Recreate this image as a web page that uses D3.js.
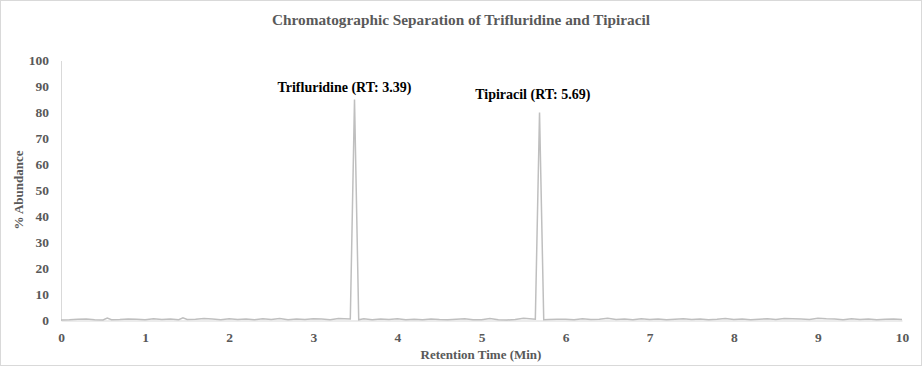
<!DOCTYPE html>
<html>
<head>
<meta charset="utf-8">
<script src="https://cdn.jsdelivr.net/npm/d3@7"></script>
<style>
  body { margin: 0; background: #fff; }
  text { font-family: "Liberation Serif", "Times New Roman", serif; }
</style>
</head>
<body>
<script>
// retention time (min) and % abundance
var times = [0.0, 0.1, 0.2, 0.3, 0.4, 0.5, 0.55, 0.6, 0.7, 0.8, 0.9, 1.0, 1.1, 1.2, 1.3, 1.4, 1.45, 1.5, 1.6, 1.7, 1.8, 1.9, 2.0,
  2.1, 2.2, 2.3, 2.4, 2.5, 2.6, 2.7, 2.8, 2.9, 3.0, 3.1, 3.2, 3.3, 3.44, 3.49, 3.54, 3.6, 3.7, 3.8, 3.9, 4.0,
  4.1, 4.2, 4.3, 4.4, 4.5, 4.6, 4.7, 4.8, 4.9, 5.0, 5.1, 5.2, 5.3, 5.4, 5.5, 5.64, 5.69, 5.74, 5.8, 5.9, 6.0,
  6.1, 6.2, 6.3, 6.4, 6.5, 6.6, 6.7, 6.8, 6.9, 7.0, 7.1, 7.2, 7.3, 7.4, 7.5, 7.6, 7.7, 7.8, 7.9, 8.0,
  8.1, 8.2, 8.3, 8.4, 8.5, 8.6, 8.7, 8.8, 8.9, 9.0, 9.1, 9.2, 9.3, 9.4, 9.5, 9.6, 9.7, 9.8, 9.9, 10.0];
var abundance = [0.2, 0.3, 0.5, 0.6, 0.3, 0.2, 0.9, 0.3, 0.4, 0.6, 0.5, 0.3, 0.7, 0.4, 0.6, 0.3, 1.0, 0.4, 0.5, 0.8, 0.6, 0.3, 0.7,
  0.4, 0.6, 0.3, 0.7, 0.4, 0.8, 0.3, 0.6, 0.4, 0.7, 0.6, 0.3, 0.8, 0.6, 85, 0.3, 0.7, 0.3, 0.6, 0.4, 0.7,
  0.3, 0.5, 0.3, 0.6, 0.4, 0.3, 0.5, 0.7, 0.3, 0.3, 0.8, 0.3, 0.2, 0.4, 0.9, 0.5, 80, 0.3, 0.4, 0.5, 0.5,
  0.3, 0.7, 0.4, 0.5, 0.9, 0.4, 0.6, 0.3, 0.7, 0.4, 0.6, 0.3, 0.5, 0.7, 0.4, 0.6, 0.3, 0.5, 0.8, 0.4,
  0.6, 0.3, 0.5, 0.7, 0.4, 0.8, 0.7, 0.6, 0.4, 0.9, 0.7, 0.6, 0.3, 0.7, 0.4, 0.6, 0.3, 0.5, 0.6, 0.4];
var yTicks = [0, 10, 20, 30, 40, 50, 60, 70, 80, 90, 100];
var xTicks = [0, 1, 2, 3, 4, 5, 6, 7, 8, 9, 10];
var peakNames = ['Trifluridine (RT: 3.39)', 'Tipiracil (RT: 5.69)'];
var peakLabelX = [3.37, 5.61];
var peakLabelY = [87.8, 85.2];

var W = 922, H = 366;
var svg = d3.select('body').append('svg').attr('width', W).attr('height', H);

svg.append('rect').attr('x', 0.5).attr('y', 0.5).attr('width', W - 1).attr('height', H - 1)
  .attr('fill', '#fff').attr('stroke', '#d9d9d9');

var x = d3.scaleLinear().domain([0, 10]).range([61, 902]);
var y = d3.scaleLinear().domain([0, 100]).range([320.5, 60.5]);

// axes
var gx = svg.append('g').attr('transform', 'translate(0,320.5)')
  .call(d3.axisBottom(x).tickValues(xTicks).tickSize(0).tickPadding(12));
var gy = svg.append('g').attr('transform', 'translate(61,0)')
  .call(d3.axisLeft(y).tickValues(yTicks).tickSize(0).tickPadding(12));
gx.select('.domain').attr('stroke', '#d9d9d9');
gy.select('.domain').attr('stroke', '#d9d9d9');
svg.selectAll('.tick text').attr('font-family', '"Liberation Serif", serif')
  .attr('font-size', 13.5).attr('font-weight', 'bold').attr('fill', '#595959');

// chromatogram line
var line = d3.line().x(function (d, i) { return x(times[i]); }).y(function (d) { return y(d); });
svg.append('path').datum(abundance).attr('d', line)
  .attr('fill', 'none').attr('stroke', '#bfbfbf').attr('stroke-width', 1.5);

// peak labels
svg.selectAll('.peak').data(peakNames).enter().append('text')
  .attr('x', function (d, i) { return x(peakLabelX[i]); })
  .attr('y', function (d, i) { return y(peakLabelY[i]); })
  .attr('text-anchor', 'middle').attr('font-size', 14).attr('font-weight', 'bold').attr('fill', '#000')
  .text(function (d) { return d; });

// titles
svg.append('text').attr('x', 461).attr('y', 25).attr('text-anchor', 'middle')
  .attr('font-size', 15).attr('font-weight', 'bold').attr('fill', '#595959')
  .attr('textLength', 378).attr('lengthAdjust', 'spacingAndGlyphs')
  .text('Chromatographic Separation of Trifluridine and Tipiracil');
svg.append('text').attr('x', 481).attr('y', 359).attr('text-anchor', 'middle')
  .attr('font-size', 13).attr('font-weight', 'bold').attr('fill', '#595959')
  .text('Retention Time (Min)');
svg.append('text').attr('transform', 'translate(23,190) rotate(-90)').attr('text-anchor', 'middle')
  .attr('font-size', 13).attr('font-weight', 'bold').attr('fill', '#595959')
  .text('% Abundance');
</script>
</body>
</html>
